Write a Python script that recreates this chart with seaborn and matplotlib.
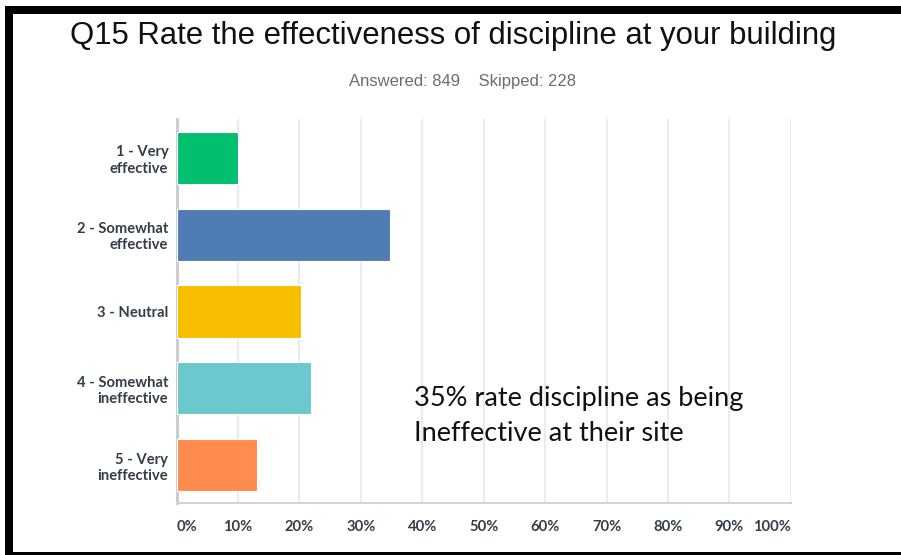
import matplotlib
matplotlib.use("Agg")
import matplotlib.pyplot as plt
from matplotlib.patches import Rectangle
import seaborn as sns
import pandas as pd

# survey answers, percent of respondents
categories = ["1 - Very\neffective", "2 - Somewhat\neffective", "3 - Neutral",
              "4 - Somewhat\nineffective", "5 - Very\nineffective"]
percents = [10.0, 34.7, 20.3, 21.9, 13.1]
bar_colors = ["#00BF6F", "#507CB6", "#F9BE00", "#6BC8CD", "#FF8B4F"]
x_ticks = [0, 10, 20, 30, 40, 50, 60, 70, 80, 90, 100]
x_tick_labels = [f"{t}%" for t in x_ticks]

title = "Q15 Rate the effectiveness of discipline at your building"
subtitle = "Answered: 849    Skipped: 228"
note = "35% rate discipline as being\nIneffective at their site"

df = pd.DataFrame({"answer": categories, "pct": percents})

sns.set_style("white")
plt.rcParams["font.family"] = ["Liberation Sans", "DejaVu Sans"]

fig = plt.figure(figsize=(9.01, 5.55), dpi=100)
ax = fig.add_axes([0.1961, 0.0928, 0.6815, 0.6919])

sns.barplot(data=df, x="pct", y="answer", hue="answer", palette=bar_colors,
            saturation=1, legend=False, orient="h", width=0.68, ax=ax,
            edgecolor="white", linewidth=0.8, zorder=3)

ax.set_xlim(0, 100)
ax.set_ylim(4.5, -0.5)
ax.set_xticks(x_ticks)
ax.set_xticklabels(x_tick_labels)
ax.set_xlabel("")
ax.set_ylabel("")

ax.grid(axis="x", color="#ebebeb", linewidth=1.5, zorder=0)
ax.grid(axis="y", visible=False)
for side in ["top", "right"]:
    ax.spines[side].set_visible(False)
ax.spines["left"].set_color("#c9c9c9")
ax.spines["left"].set_linewidth(2)
ax.spines["bottom"].set_color("#d4d4d4")
ax.spines["bottom"].set_linewidth(1.5)

ax.tick_params(axis="both", length=0)
ax.tick_params(axis="y", pad=6)
ax.tick_params(axis="x", pad=12)
for lbl in ax.get_yticklabels():
    lbl.set_fontfamily(["Lato", "DejaVu Sans"])
    lbl.set_fontweight("bold")
    lbl.set_fontsize(10.6)
    lbl.set_color("#333e48")
    lbl.set_multialignment("right")
xlabels = ax.get_xticklabels()
for i, lbl in enumerate(xlabels):
    lbl.set_fontfamily(["Lato", "DejaVu Sans"])
    lbl.set_fontweight("bold")
    lbl.set_fontsize(10.6)
    lbl.set_color("#333e48")
xlabels[0].set_horizontalalignment("left")
xlabels[-1].set_horizontalalignment("right")

fig.text(0.503, 0.936, title, ha="center", va="center", fontsize=22.4, color="#111111")
fig.text(0.513, 0.854, subtitle, ha="center", va="center", fontsize=12, color="#6d6d6d")
fig.text(0.459, 0.251, note, ha="left", va="center", fontsize=19.5,
         family=["Lato", "DejaVu Sans"], color="#111111", linespacing=1.5)

# black slide frame around the screenshot
frame = dict(transform=fig.transFigure, facecolor="black", edgecolor="none", zorder=10)
fig.patches.append(Rectangle((5 / 901, 1 - 14 / 555), 896 / 901, 8 / 555, **frame))
fig.patches.append(Rectangle((5 / 901, 0), 7.5 / 901, 1 - 6 / 555, **frame))
fig.patches.append(Rectangle((5 / 901, 0), 896 / 901, 3.5 / 555, **frame))

fig.savefig("out.png", dpi=100)
